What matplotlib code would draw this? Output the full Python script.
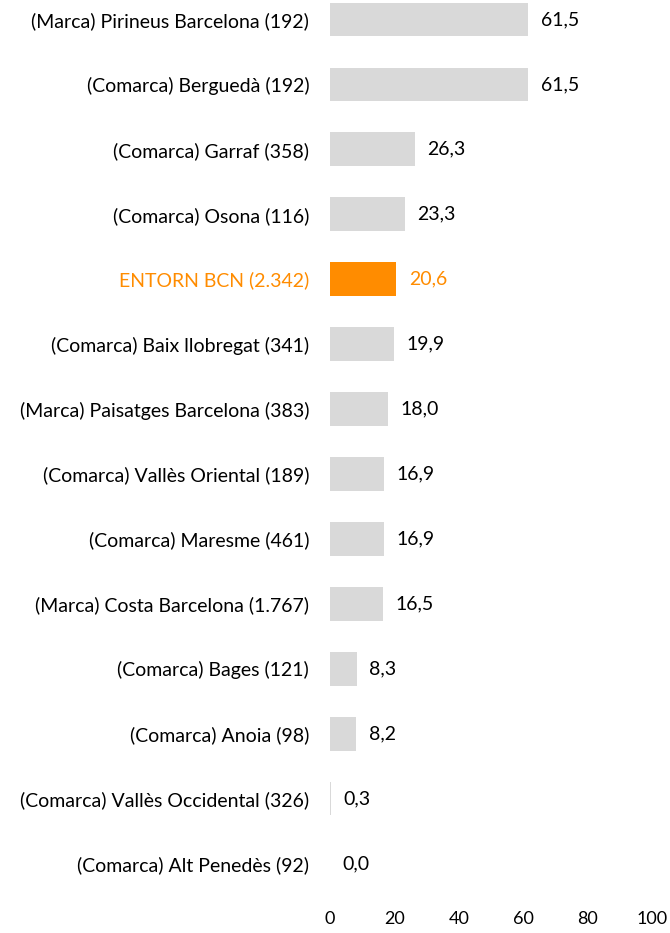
import matplotlib
matplotlib.use("Agg")
import matplotlib.pyplot as plt

plt.rcParams['font.family'] = ['Lato', 'DejaVu Sans']

labels = ['(Marca) Pirineus Barcelona (192)', '(Comarca) Berguedà (192)',
          '(Comarca) Garraf (358)', '(Comarca) Osona (116)',
          'ENTORN BCN (2.342)', '(Comarca) Baix llobregat (341)',
          '(Marca) Paisatges Barcelona (383)', '(Comarca) Vallès Oriental (189)',
          '(Comarca) Maresme (461)', '(Marca) Costa Barcelona (1.767)',
          '(Comarca) Bages (121)', '(Comarca) Anoia (98)',
          '(Comarca) Vallès Occidental (326)', '(Comarca) Alt Penedès (92)']
values = [61.5, 61.5, 26.3, 23.3, 20.6, 19.9, 18.0, 16.9, 16.9, 16.5, 8.3, 8.2, 0.3, 0.0]
highlight = 'ENTORN BCN (2.342)'

gray = '#D9D9D9'
orange = '#FF8C00'
fs = 14

fig = plt.figure(figsize=(6.7, 9.33), dpi=100)
ax = fig.add_axes([330 / 670, 1 - 896 / 933, 322 / 670, 896 / 933])

ypos = list(range(len(labels)))
colors = [orange if l == highlight else gray for l in labels]
ax.barh(ypos, values, height=0.52, color=colors)

for y, v, l in zip(ypos, values, labels):
    ax.annotate(f'{v:.1f}'.replace('.', ','), (v, y), xytext=(9, 0),
                textcoords='offset points', va='center', ha='left', fontsize=fs,
                color=orange if l == highlight else 'black')

ax.set_yticks(ypos)
ax.set_yticklabels(labels, fontsize=fs)
for t, l in zip(ax.get_yticklabels(), labels):
    if l == highlight:
        t.set_color(orange)
ax.set_ylim(13.5, -0.3)
ax.set_xlim(0, 100)
ax.set_xticks([0, 20, 40, 60, 80, 100])
ax.tick_params(axis='x', labelsize=13, length=0, pad=11)
ax.tick_params(axis='y', length=0, pad=15)
for s in ax.spines.values():
    s.set_visible(False)

fig.savefig('out.png', dpi=100)
